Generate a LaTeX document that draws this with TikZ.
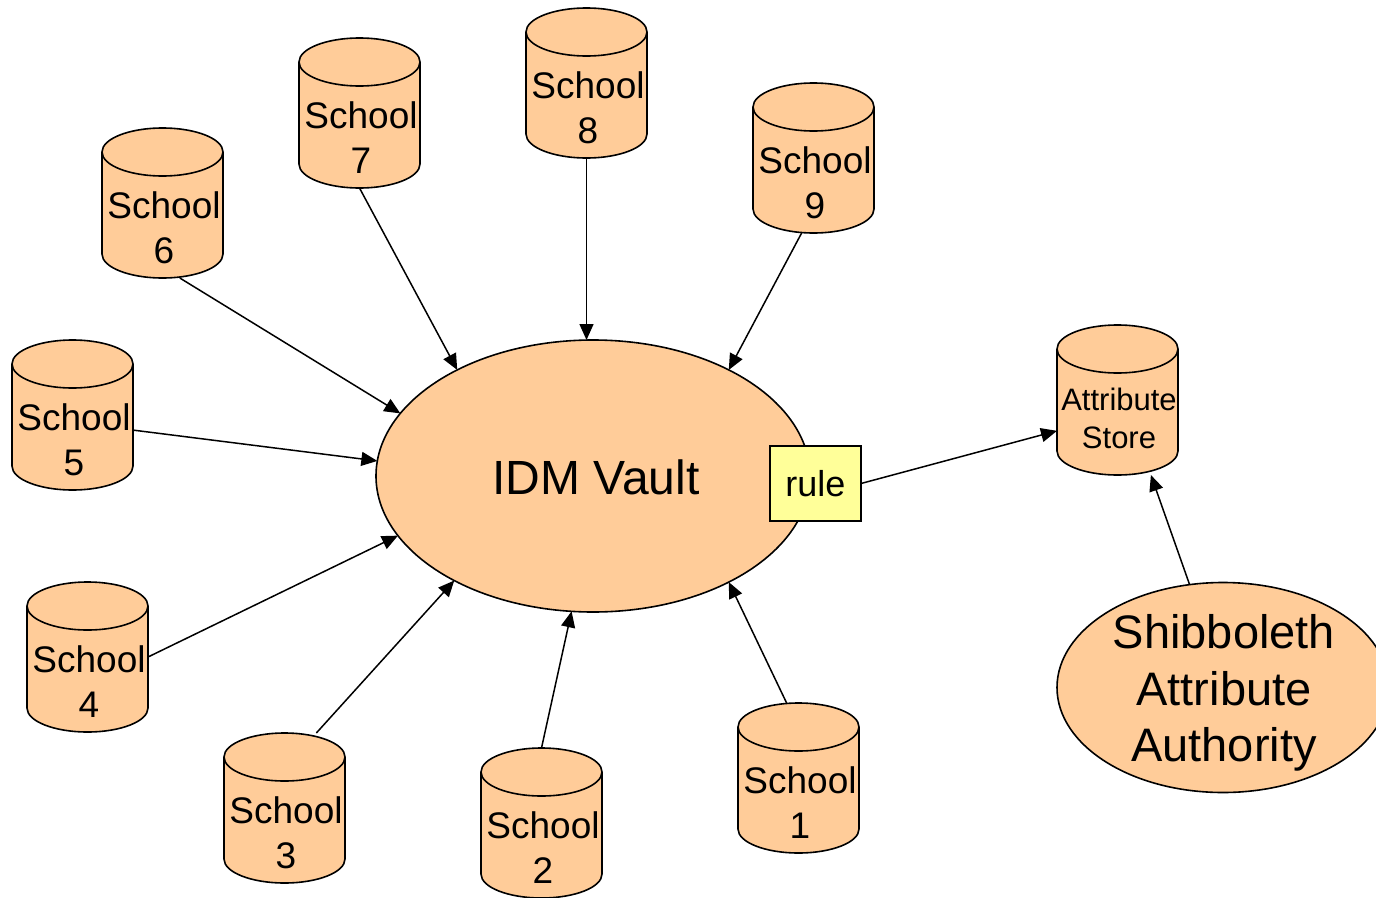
\documentclass[tikz,border=0pt]{standalone}
\usepackage{fontspec}
\setmainfont{Liberation Sans}
\usetikzlibrary{shapes.geometric,arrows.meta}
\definecolor{peach}{HTML}{FFCC99}
\definecolor{ruley}{HTML}{FFFF99}
% #1 name, #2 cx, #3 cy (pixel, down), #4 text offset, #5 text style, #6 text
\newcommand{\mycyl}[6]{%
  \path[fill=peach] (#2-60.5,-#3+51) -- (#2-60.5,-#3-51)
     arc[start angle=180,end angle=360,x radius=60.5,y radius=24]
     -- (#2+60.5,-#3+51)
     arc[start angle=0,end angle=180,x radius=60.5,y radius=24] -- cycle;
  \draw[outl] (#2,-#3+51) ellipse[x radius=60.5,y radius=24];
  \draw[outl] (#2-60.5,-#3+51) -- (#2-60.5,-#3-51)
     arc[start angle=180,end angle=360,x radius=60.5,y radius=24]
     -- (#2+60.5,-#3+51);
  \node[cylnode] (#1) at (#2,-#3) {};
  \node[#5] (#1t) at (#2+1.5,-#3-#4) {#6};
}
\begin{document}
\begin{tikzpicture}[x=1pt,y=1pt,
  outl/.style={draw=black,line width=1.6pt},
  cylnode/.style={rectangle,minimum width=121pt,minimum height=150pt,inner sep=0pt,outer sep=0pt},
  schooltext/.style={align=center,inner sep=0pt,font=\fontsize{37}{45}\selectfont},
  attrtext/.style={align=center,inner sep=0pt,font=\fontsize{31}{38}\selectfont},
  vaultstyle/.style={ellipse,fill=peach,draw=black,line width=1.6pt,minimum width=434pt,minimum height=272pt,inner sep=0pt,outer sep=0pt},
  vaulttext/.style={inner sep=0pt,font=\fontsize{48}{56}\selectfont},
  shibstyle/.style={ellipse,fill=peach,draw=black,line width=1.6pt,minimum width=332pt,minimum height=210pt,inner sep=0pt,outer sep=0pt},
  shibtext/.style={align=center,inner sep=0pt,font=\fontsize{47}{56.5}\selectfont},
  rulestyle/.style={rectangle,fill=ruley,draw=black,line width=1.6pt,minimum width=91pt,minimum height=75pt,inner sep=0pt,outer sep=0pt,font=\fontsize{36}{42}\selectfont},
  arr/.style={draw=black,line width=1.5pt,-{Triangle[length=16pt,width=14pt]}}
]
\useasboundingbox (0,0) rectangle (1376,-897);

\mycyl{s8}{586.5}{83}{25}{schooltext}{School\\8}
\mycyl{s7}{359.5}{113}{25}{schooltext}{School\\7}
\mycyl{s6}{162.5}{203}{25}{schooltext}{School\\6}
\mycyl{s9}{813.5}{158}{25}{schooltext}{School\\9}
\mycyl{s5}{72.5}{415}{25}{schooltext}{School\\5}
\mycyl{s4}{87.5}{657}{25}{schooltext}{School\\4}
\mycyl{s3}{284.5}{808}{25}{schooltext}{School\\3}
\mycyl{s2}{541.5}{823}{25}{schooltext}{School\\2}
\mycyl{s1}{798.5}{778}{25}{schooltext}{School\\1}
\mycyl{attr}{1117.5}{400}{18.5}{attrtext}{Attribute\\Store}

\node[vaultstyle] (vault) at (593,-476) {};
\node[vaulttext] (vaultt) at (596,-477) {IDM Vault};
\node[rulestyle] (rule) at (815.5,-483.5) {rule};
\node[shibstyle] (shib) at (1223,-687.5) {};
\node[shibtext] (shibt) at (1224,-693) {Shibboleth\\Attribute\\Authority};

\draw[arr] (s8.south) -- (s8.south |- vault.north);
\draw[arr] (s7.south) -- (vault.142.5);
\draw[arr] (s6.-77.75) -- (vault.162.9);
\draw[arr] (s9.-99.3) -- (vault.38.8);
\draw[arr] (s5.-14.8) -- (vault.176.1);
\draw[arr] (s4.east) -- (vault.197.1);
\draw[arr] (s3.67.3) -- (vault.217.2);
\draw[arr] (s2.north) -- (vault.261.7);
\draw[arr] (s1.99.5) -- (vault.-38.6);
\draw[arr] (rule.east) -- (attr.207.9);
\draw[arr] (shib.108.3) -- (attr.-66.5);
\end{tikzpicture}
\end{document}
